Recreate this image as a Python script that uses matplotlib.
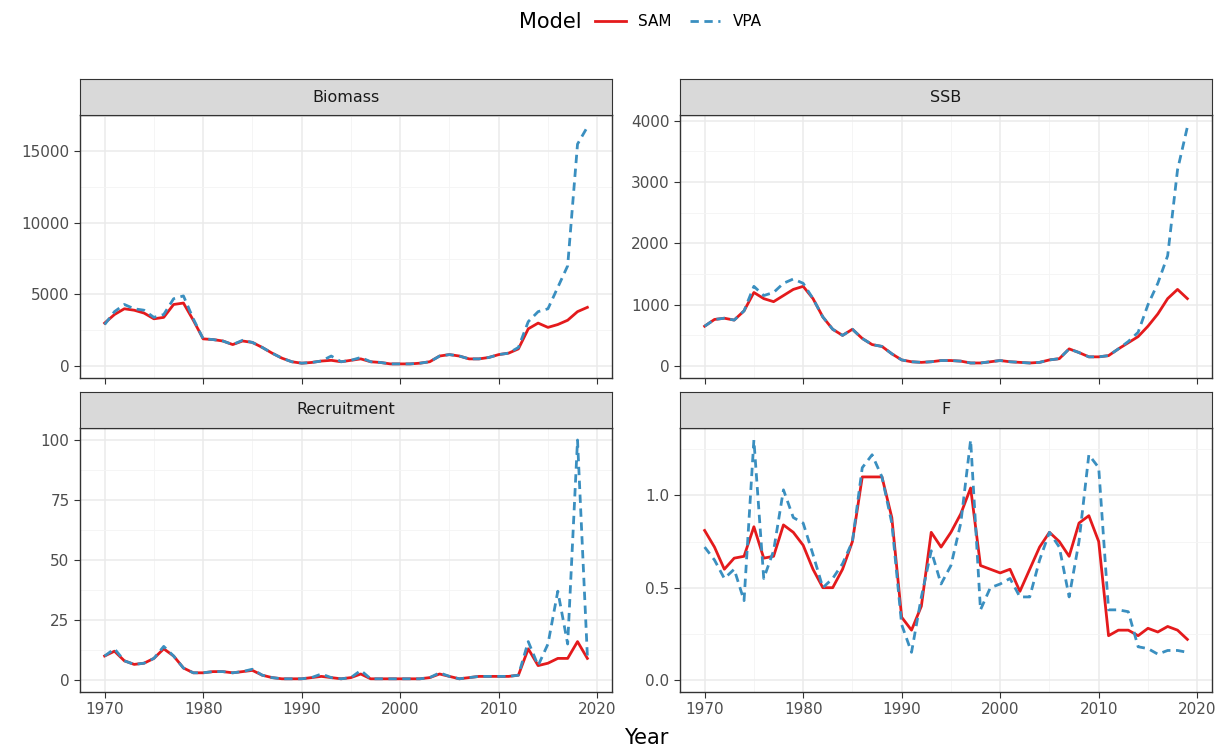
import numpy as np
import matplotlib.pyplot as plt
from matplotlib.lines import Line2D
from matplotlib.offsetbox import HPacker

years = np.arange(1970, 2020)

biomass_sam = [3000, 3600, 4000, 3900, 3700, 3300, 3400, 4300, 4400, 3200,
               1900, 1850, 1750, 1500, 1750, 1650, 1300, 900, 550, 300,
               200, 250, 350, 400, 300, 400, 500, 300, 250, 150,
               150, 150, 200, 300, 700, 800, 700, 500, 500, 600,
               800, 900, 1200, 2600, 3000, 2700, 2900, 3200, 3800, 4100]
biomass_vpa = [2900, 3800, 4300, 4000, 3900, 3400, 3600, 4700, 4900, 3300,
               1900, 1850, 1750, 1500, 1800, 1650, 1300, 900, 550, 300,
               200, 250, 350, 700, 300, 400, 600, 300, 250, 150,
               150, 150, 200, 300, 700, 800, 700, 500, 500, 600,
               800, 900, 1300, 3100, 3800, 4000, 5500, 7000, 15500, 16700]

ssb_sam = [650, 760, 780, 750, 900, 1200, 1100, 1050, 1150, 1250,
           1300, 1100, 800, 600, 500, 600, 450, 350, 320, 200,
           100, 70, 60, 70, 90, 90, 80, 50, 50, 70,
           90, 70, 60, 50, 60, 100, 120, 280, 220, 150,
           150, 170, 280, 380, 480, 650, 850, 1100, 1250, 1100]
ssb_vpa = [650, 760, 780, 750, 900, 1300, 1150, 1200, 1350, 1420,
           1350, 1100, 800, 600, 500, 600, 450, 350, 320, 200,
           100, 70, 60, 70, 90, 90, 80, 50, 50, 70,
           90, 70, 60, 50, 60, 100, 120, 280, 220, 150,
           150, 170, 280, 400, 550, 1000, 1350, 1800, 3200, 3900]

rec_sam = [10, 12, 8, 6.5, 7, 9, 13, 10, 5, 3,
           3, 3.5, 3.5, 3, 3.5, 4, 2, 1, 0.5, 0.5,
           0.5, 1, 1.5, 1, 0.5, 1, 2.5, 0.5, 0.5, 0.5,
           0.5, 0.5, 0.5, 1, 2.5, 1.5, 0.5, 1, 1.5, 1.5,
           1.5, 1.5, 2, 13, 6, 7, 9, 9, 16, 9]
rec_vpa = [10, 13, 8, 6.5, 7, 9, 14, 10, 5, 3,
           3, 3.5, 3.5, 3, 3.5, 4.5, 2, 1, 0.5, 0.5,
           0.5, 1, 2.5, 1, 0.5, 1, 4, 0.5, 0.5, 0.5,
           0.5, 0.5, 0.5, 1, 3, 1.5, 0.5, 1, 1.5, 1.5,
           1.5, 1.5, 2, 16, 6, 15, 37, 15, 100, 10]

f_sam = [0.81, 0.72, 0.6, 0.66, 0.67, 0.83, 0.66, 0.67, 0.84, 0.8,
         0.73, 0.6, 0.5, 0.5, 0.6, 0.75, 1.1, 1.1, 1.1, 0.88,
         0.34, 0.27, 0.4, 0.8, 0.72, 0.8, 0.9, 1.04, 0.62, 0.6,
         0.58, 0.6, 0.48, 0.6, 0.72, 0.8, 0.75, 0.67, 0.85, 0.89,
         0.75, 0.24, 0.27, 0.27, 0.24, 0.28, 0.26, 0.29, 0.27, 0.22]
f_vpa = [0.72, 0.65, 0.55, 0.6, 0.43, 1.3, 0.55, 0.7, 1.03, 0.88,
         0.85, 0.68, 0.5, 0.55, 0.63, 0.75, 1.15, 1.22, 1.1, 0.85,
         0.3, 0.15, 0.45, 0.7, 0.52, 0.62, 0.85, 1.3, 0.38, 0.5,
         0.52, 0.55, 0.45, 0.45, 0.65, 0.8, 0.72, 0.45, 0.75, 1.22,
         1.15, 0.38, 0.38, 0.37, 0.18, 0.17, 0.14, 0.16, 0.16, 0.15]

panels = [("Biomass", biomass_sam, biomass_vpa, [0, 5000, 10000, 15000]),
          ("SSB", ssb_sam, ssb_vpa, [0, 1000, 2000, 3000, 4000]),
          ("Recruitment", rec_sam, rec_vpa, [0, 25, 50, 75, 100]),
          ("F", f_sam, f_vpa, [0.0, 0.5, 1.0])]

sam_col = "#E41A1C"
vpa_col = "#3A8FC0"
W, H = 1232, 753
fig = plt.figure(figsize=(W / 100, H / 100), dpi=100)

boxes = [(80, 115, 612, 378), (680, 115, 1212, 378),
         (80, 428, 612, 692), (680, 428, 1212, 692)]
strip_h = 36

for (name, sam, vpa, ticks), (x0, y0, x1, y1) in zip(panels, boxes):
    ax = fig.add_axes([x0 / W, 1 - y1 / H, (x1 - x0) / W, (y1 - y0) / H])
    ax.plot(years, vpa, color=vpa_col, lw=2, ls=(0, (3, 2)), zorder=3)
    ax.plot(years, sam, color=sam_col, lw=2, zorder=2)
    lo, hi = 0, max(max(sam), max(vpa))
    pad = (hi - lo) * 0.05
    ax.set_xlim(1967.5, 2021.5)
    ax.set_xticks([1970, 1980, 1990, 2000, 2010, 2020])
    ax.set_xticks(np.arange(1975, 2020, 10), minor=True)
    ax.set_yticks(ticks)
    if name == "F":
        ax.set_yticklabels(["0.0", "0.5", "1.0"])
    step = ticks[1] - ticks[0]
    mt = [t + step / 2 for t in ticks]
    ax.set_yticks(mt, minor=True)
    ax.set_ylim(lo - pad, hi + pad)
    ax.grid(True, which="major", color="#EBEBEB", lw=1.1)
    ax.grid(True, which="minor", color="#F4F4F4", lw=0.6)
    ax.set_axisbelow(True)
    for s in ax.spines.values():
        s.set_color("#333333")
        s.set_linewidth(1)
    ax.tick_params(which="major", colors="#333333", labelcolor="#4D4D4D", labelsize=11, length=4)
    ax.tick_params(which="minor", length=0)
    if name in ("Biomass", "SSB"):
        ax.tick_params(labelbottom=False)
    sax = fig.add_axes([x0 / W, 1 - y0 / H, (x1 - x0) / W, strip_h / H])
    sax.set_facecolor("#D9D9D9")
    sax.set_xticks([])
    sax.set_yticks([])
    for s in sax.spines.values():
        s.set_color("#333333")
    sax.text(0.5, 0.5, name, ha="center", va="center", fontsize=11.5, color="#1A1A1A",
             transform=sax.transAxes)

fig.text(646 / W, 1 - 738 / H, "Year", ha="center", va="center", fontsize=15)
handles = [Line2D([], [], color=sam_col, lw=2),
           Line2D([], [], color=vpa_col, lw=2, ls=(0, (3, 2)))]
leg = fig.legend(handles, ["SAM", "VPA"], title="Model", loc="center",
                 bbox_to_anchor=(640 / W, 1 - 22 / H), ncol=2, frameon=False,
                 fontsize=11, title_fontsize=15, handlelength=2, columnspacing=1.2)
# title beside the entries, like ggplot's top legend
box = leg._legend_box
box.__class__ = HPacker
box.sep = 10
box.align = "center"

fig.savefig("out.png", dpi=100)
